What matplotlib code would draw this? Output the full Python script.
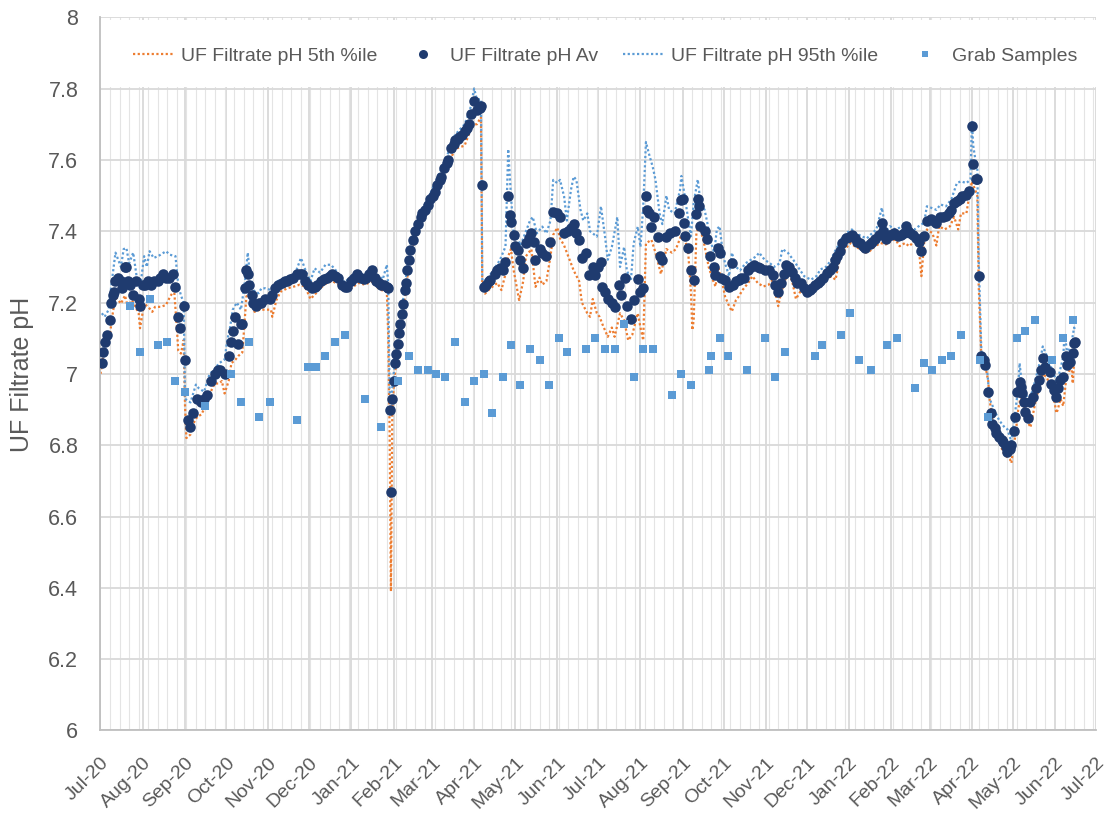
import numpy as np
import pandas as pd
import matplotlib
matplotlib.use("Agg")
import matplotlib.pyplot as plt
import matplotlib.dates as mdates
from matplotlib.lines import Line2D
from matplotlib.legend import Legend
from matplotlib.patches import Rectangle

plt.rcParams["font.family"] = ["Liberation Sans", "DejaVu Sans"]

# daily average pH
avg_dates = [
    "2020-07-02", "2020-07-03", "2020-07-04", "2020-07-06", "2020-07-08", "2020-07-09", "2020-07-10",
    "2020-07-11", "2020-07-12", "2020-07-14", "2020-07-16", "2020-07-17", "2020-07-19", "2020-07-20",
    "2020-07-21", "2020-07-23", "2020-07-25", "2020-07-27", "2020-07-29", "2020-07-30", "2020-08-01",
    "2020-08-03", "2020-08-05", "2020-08-07", "2020-08-09", "2020-08-12", "2020-08-14", "2020-08-16",
    "2020-08-18", "2020-08-20", "2020-08-23", "2020-08-25", "2020-08-27", "2020-08-28", "2020-08-31",
    "2020-09-01", "2020-09-03", "2020-09-05", "2020-09-07", "2020-09-10", "2020-09-13", "2020-09-15",
    "2020-09-17", "2020-09-20", "2020-09-23", "2020-09-25", "2020-09-27", "2020-09-30", "2020-10-03",
    "2020-10-05", "2020-10-06", "2020-10-08", "2020-10-10", "2020-10-12", "2020-10-13", "2020-10-15",
    "2020-10-16", "2020-10-17", "2020-10-18", "2020-10-20", "2020-10-21", "2020-10-23", "2020-10-25",
    "2020-10-27", "2020-10-30", "2020-11-02", "2020-11-04", "2020-11-06", "2020-11-08", "2020-11-11",
    "2020-11-13", "2020-11-15", "2020-11-17", "2020-11-19", "2020-11-22", "2020-11-24", "2020-11-26",
    "2020-11-28", "2020-11-30", "2020-12-03", "2020-12-05", "2020-12-07", "2020-12-10", "2020-12-12",
    "2020-12-14", "2020-12-16", "2020-12-18", "2020-12-20", "2020-12-22", "2020-12-25", "2020-12-27",
    "2020-12-29", "2021-01-01", "2021-01-03", "2021-01-05", "2021-01-08", "2021-01-10", "2021-01-12",
    "2021-01-14", "2021-01-16", "2021-01-18", "2021-01-19", "2021-01-21", "2021-01-23", "2021-01-25",
    "2021-01-27", "2021-01-28", "2021-01-29", "2021-01-30", "2021-01-31", "2021-02-01", "2021-02-02",
    "2021-02-03", "2021-02-04", "2021-02-05", "2021-02-06", "2021-02-07", "2021-02-08", "2021-02-09",
    "2021-02-10", "2021-02-11", "2021-02-12", "2021-02-13", "2021-02-15", "2021-02-17", "2021-02-19",
    "2021-02-21", "2021-02-22", "2021-02-24", "2021-02-26", "2021-02-28", "2021-03-02", "2021-03-03",
    "2021-03-05", "2021-03-07", "2021-03-08", "2021-03-10", "2021-03-12", "2021-03-13", "2021-03-15",
    "2021-03-17", "2021-03-18", "2021-03-20", "2021-03-21", "2021-03-23", "2021-03-25", "2021-03-27",
    "2021-03-28", "2021-03-30", "2021-04-01", "2021-04-03", "2021-04-05", "2021-04-06", "2021-04-07",
    "2021-04-08", "2021-04-10", "2021-04-12", "2021-04-13", "2021-04-16", "2021-04-18", "2021-04-20",
    "2021-04-22", "2021-04-24", "2021-04-26", "2021-04-27", "2021-04-28", "2021-04-30", "2021-05-01",
    "2021-05-03", "2021-05-05", "2021-05-07", "2021-05-09", "2021-05-11", "2021-05-13", "2021-05-15",
    "2021-05-16", "2021-05-19", "2021-05-21", "2021-05-24", "2021-05-27", "2021-05-29", "2021-06-01",
    "2021-06-03", "2021-06-06", "2021-06-09", "2021-06-11", "2021-06-13", "2021-06-15", "2021-06-17",
    "2021-06-19", "2021-06-22", "2021-06-24", "2021-06-27", "2021-06-29", "2021-07-01", "2021-07-03",
    "2021-07-04", "2021-07-06", "2021-07-08", "2021-07-11", "2021-07-13", "2021-07-16", "2021-07-18",
    "2021-07-21", "2021-07-22", "2021-07-25", "2021-07-27", "2021-07-30", "2021-08-01", "2021-08-03",
    "2021-08-05", "2021-08-06", "2021-08-07", "2021-08-09", "2021-08-11", "2021-08-14", "2021-08-15",
    "2021-08-17", "2021-08-20", "2021-08-23", "2021-08-26", "2021-08-29", "2021-08-31", "2021-09-01",
    "2021-09-02", "2021-09-03", "2021-09-05", "2021-09-07", "2021-09-09", "2021-09-11", "2021-09-12",
    "2021-09-13", "2021-09-14", "2021-09-17", "2021-09-19", "2021-09-21", "2021-09-24", "2021-09-25",
    "2021-09-27", "2021-09-28", "2021-09-29", "2021-10-02", "2021-10-05", "2021-10-07", "2021-10-08",
    "2021-10-10", "2021-10-12", "2021-10-14", "2021-10-16", "2021-10-19", "2021-10-21", "2021-10-23",
    "2021-10-26", "2021-10-28", "2021-10-31", "2021-11-03", "2021-11-06", "2021-11-08", "2021-11-10",
    "2021-11-12", "2021-11-14", "2021-11-16", "2021-11-18", "2021-11-20", "2021-11-22", "2021-11-24",
    "2021-11-27", "2021-11-29", "2021-12-01", "2021-12-03", "2021-12-05", "2021-12-07", "2021-12-09",
    "2021-12-11", "2021-12-13", "2021-12-16", "2021-12-18", "2021-12-20", "2021-12-22", "2021-12-23",
    "2021-12-25", "2021-12-27", "2021-12-30", "2022-01-01", "2022-01-03", "2022-01-05", "2022-01-07",
    "2022-01-09", "2022-01-11", "2022-01-13", "2022-01-16", "2022-01-18", "2022-01-20", "2022-01-23",
    "2022-01-25", "2022-01-26", "2022-01-28", "2022-01-30", "2022-02-01", "2022-02-03", "2022-02-06",
    "2022-02-08", "2022-02-10", "2022-02-12", "2022-02-13", "2022-02-15", "2022-02-17", "2022-02-19",
    "2022-02-21", "2022-02-23", "2022-02-25", "2022-02-27", "2022-03-02", "2022-03-04", "2022-03-06",
    "2022-03-09", "2022-03-11", "2022-03-13", "2022-03-15", "2022-03-17", "2022-03-19", "2022-03-21",
    "2022-03-23", "2022-03-25", "2022-03-28", "2022-03-30", "2022-04-01", "2022-04-02", "2022-04-04",
    "2022-04-05", "2022-04-06", "2022-04-08", "2022-04-10", "2022-04-11", "2022-04-13", "2022-04-15",
    "2022-04-16", "2022-04-18", "2022-04-19", "2022-04-21", "2022-04-23", "2022-04-24", "2022-04-26",
    "2022-04-27", "2022-04-29", "2022-04-30", "2022-05-02", "2022-05-03", "2022-05-04", "2022-05-06",
    "2022-05-07", "2022-05-08", "2022-05-09", "2022-05-10", "2022-05-12", "2022-05-14", "2022-05-16",
    "2022-05-18", "2022-05-20", "2022-05-22", "2022-05-23", "2022-05-25", "2022-05-28", "2022-05-29",
    "2022-05-31", "2022-06-02", "2022-06-03", "2022-06-05", "2022-06-07", "2022-06-09", "2022-06-10",
    "2022-06-12", "2022-06-14", "2022-06-15", "2022-06-16",
]
avg_ph = [
    7.03, 7.06, 7.09, 7.11, 7.15, 7.20, 7.22,
    7.23, 7.26, 7.27, 7.26, 7.24, 7.30, 7.30,
    7.26, 7.25, 7.22, 7.26, 7.21, 7.19, 7.25,
    7.25, 7.26, 7.25, 7.26, 7.26, 7.27, 7.28,
    7.27, 7.27, 7.28, 7.245, 7.16, 7.13, 7.19,
    7.04, 6.87, 6.85, 6.89, 6.93, 6.92, 6.93,
    6.94, 6.98, 7.00, 7.01, 7.01, 7.00, 7.05,
    7.09, 7.12, 7.16, 7.085, 7.14, 7.14, 7.24,
    7.29, 7.28, 7.25, 7.22, 7.20, 7.19, 7.20,
    7.20, 7.21, 7.21, 7.22, 7.24, 7.25, 7.255,
    7.26, 7.26, 7.265, 7.27, 7.28, 7.28, 7.28,
    7.26, 7.25, 7.24, 7.245, 7.25, 7.26, 7.265,
    7.27, 7.275, 7.28, 7.275, 7.27, 7.25, 7.245,
    7.245, 7.26, 7.27, 7.28, 7.27, 7.265, 7.27,
    7.28, 7.29, 7.27, 7.26, 7.255, 7.25, 7.25,
    7.245, 7.24, 6.90, 6.67, 6.93, 6.98, 7.03,
    7.056, 7.084, 7.114, 7.14, 7.168, 7.197, 7.235,
    7.254, 7.29, 7.32, 7.347, 7.375, 7.40, 7.42,
    7.44, 7.45, 7.46, 7.474, 7.49, 7.50, 7.51,
    7.53, 7.545, 7.553, 7.577, 7.59, 7.60, 7.633,
    7.645, 7.656, 7.66, 7.665, 7.67, 7.68, 7.69,
    7.70, 7.73, 7.764, 7.74, 7.745, 7.75, 7.53,
    7.245, 7.25, 7.26, 7.263, 7.28, 7.29, 7.296,
    7.29, 7.314, 7.50, 7.445, 7.427, 7.39, 7.36,
    7.347, 7.32, 7.296, 7.366, 7.38, 7.394, 7.37,
    7.32, 7.35, 7.34, 7.33, 7.37, 7.455, 7.45,
    7.44, 7.394, 7.40, 7.41, 7.42, 7.394, 7.375,
    7.324, 7.338, 7.277, 7.30, 7.277, 7.30, 7.314,
    7.245, 7.23, 7.21, 7.20, 7.188, 7.25, 7.22,
    7.27, 7.19, 7.155, 7.207, 7.267, 7.23, 7.24,
    7.50, 7.46, 7.45, 7.413, 7.44, 7.385, 7.33,
    7.32, 7.385, 7.394, 7.40, 7.45, 7.488, 7.49,
    7.424, 7.386, 7.353, 7.29, 7.264, 7.447, 7.49,
    7.47, 7.414, 7.40, 7.377, 7.33, 7.30, 7.278,
    7.353, 7.34, 7.27, 7.264, 7.245, 7.31, 7.25,
    7.26, 7.264, 7.27, 7.27, 7.29, 7.30, 7.306,
    7.30, 7.297, 7.29, 7.29, 7.278, 7.25, 7.23,
    7.255, 7.28, 7.306, 7.30, 7.285, 7.27, 7.255,
    7.255, 7.24, 7.23, 7.235, 7.24, 7.25, 7.255,
    7.26, 7.27, 7.283, 7.29, 7.30, 7.32, 7.33,
    7.344, 7.367, 7.38, 7.385, 7.39, 7.38, 7.37,
    7.367, 7.36, 7.353, 7.363, 7.37, 7.377, 7.39,
    7.424, 7.40, 7.377, 7.39, 7.39, 7.395, 7.386,
    7.39, 7.395, 7.414, 7.40, 7.395, 7.39, 7.38,
    7.37, 7.344, 7.386, 7.428, 7.433, 7.43, 7.424,
    7.44, 7.44, 7.442, 7.45, 7.46, 7.48, 7.485,
    7.49, 7.50, 7.503, 7.513, 7.696, 7.588, 7.546,
    7.546, 7.274, 7.05, 7.04, 7.025, 6.95, 6.89,
    6.86, 6.847, 6.833, 6.823, 6.814, 6.81, 6.795,
    6.78, 6.79, 6.80, 6.84, 6.88, 6.95, 6.978,
    6.964, 6.945, 6.92, 6.894, 6.875, 6.92, 6.935,
    6.96, 6.983, 7.01, 7.044, 7.02, 7.006, 6.973,
    6.955, 6.935, 6.96, 6.983, 6.99, 7.05, 7.025,
    7.034, 7.058, 7.086, 7.09,
]

# 95th percentile
p95_dates = [
    "2020-07-02", "2020-07-04", "2020-07-07", "2020-07-09", "2020-07-12", "2020-07-14", "2020-07-16",
    "2020-07-18", "2020-07-20", "2020-07-22", "2020-07-25", "2020-07-28", "2020-07-30", "2020-08-02",
    "2020-08-04", "2020-08-06", "2020-08-09", "2020-08-12", "2020-08-14", "2020-08-18", "2020-08-21",
    "2020-08-25", "2020-08-27", "2020-08-29", "2020-08-31", "2020-09-01", "2020-09-05", "2020-09-09",
    "2020-09-11", "2020-09-15", "2020-09-19", "2020-09-22", "2020-09-26", "2020-09-30", "2020-10-02",
    "2020-10-04", "2020-10-06", "2020-10-09", "2020-10-12", "2020-10-15", "2020-10-17", "2020-10-18",
    "2020-10-21", "2020-10-25", "2020-10-27", "2020-10-30", "2020-11-03", "2020-11-08", "2020-11-13",
    "2020-11-18", "2020-11-21", "2020-11-25", "2020-11-29", "2020-12-02", "2020-12-05", "2020-12-09",
    "2020-12-13", "2020-12-17", "2020-12-22", "2020-12-27", "2021-01-01", "2021-01-06", "2021-01-11",
    "2021-01-16", "2021-01-21", "2021-01-24", "2021-01-27", "2021-01-28", "2021-01-29", "2021-01-30",
    "2021-01-31", "2021-02-01", "2021-02-03", "2021-02-08", "2021-02-13", "2021-02-19", "2021-02-26",
    "2021-03-05", "2021-03-12", "2021-03-18", "2021-03-25", "2021-03-29", "2021-04-01", "2021-04-03",
    "2021-04-06", "2021-04-07", "2021-04-10", "2021-04-15", "2021-04-20", "2021-04-24", "2021-04-26",
    "2021-04-28", "2021-04-30", "2021-05-03", "2021-05-05", "2021-05-08", "2021-05-12", "2021-05-14",
    "2021-05-17", "2021-05-21", "2021-05-24", "2021-05-27", "2021-05-29", "2021-06-01", "2021-06-03",
    "2021-06-06", "2021-06-08", "2021-06-11", "2021-06-13", "2021-06-15", "2021-06-18", "2021-06-20",
    "2021-06-23", "2021-06-25", "2021-06-27", "2021-06-30", "2021-07-03", "2021-07-06", "2021-07-08",
    "2021-07-11", "2021-07-15", "2021-07-17", "2021-07-20", "2021-07-22", "2021-07-25", "2021-07-27",
    "2021-07-30", "2021-08-01", "2021-08-03", "2021-08-05", "2021-08-07", "2021-08-10", "2021-08-12",
    "2021-08-15", "2021-08-17", "2021-08-20", "2021-08-22", "2021-08-26", "2021-08-30", "2021-08-31",
    "2021-09-02", "2021-09-05", "2021-09-07", "2021-09-09", "2021-09-12", "2021-09-14", "2021-09-17",
    "2021-09-19", "2021-09-21", "2021-09-24", "2021-09-26", "2021-09-28", "2021-09-30", "2021-10-02",
    "2021-10-05", "2021-10-07", "2021-10-10", "2021-10-13", "2021-10-17", "2021-10-21", "2021-10-25",
    "2021-10-27", "2021-10-31", "2021-11-04", "2021-11-07", "2021-11-11", "2021-11-13", "2021-11-17",
    "2021-11-21", "2021-11-25", "2021-11-29", "2021-12-04", "2021-12-08", "2021-12-11", "2021-12-15",
    "2021-12-19", "2021-12-21", "2021-12-24", "2021-12-26", "2021-12-30", "2022-01-03", "2022-01-06",
    "2022-01-10", "2022-01-14", "2022-01-18", "2022-01-21", "2022-01-25", "2022-01-28", "2022-01-31",
    "2022-02-04", "2022-02-07", "2022-02-11", "2022-02-14", "2022-02-18", "2022-02-21", "2022-02-25",
    "2022-02-27", "2022-03-02", "2022-03-06", "2022-03-09", "2022-03-13", "2022-03-17", "2022-03-21",
    "2022-03-24", "2022-03-28", "2022-03-31", "2022-04-01", "2022-04-02", "2022-04-04", "2022-04-05",
    "2022-04-06", "2022-04-08", "2022-04-12", "2022-04-14", "2022-04-18", "2022-04-21", "2022-04-25",
    "2022-04-27", "2022-04-30", "2022-05-02", "2022-05-05", "2022-05-06", "2022-05-08", "2022-05-11",
    "2022-05-13", "2022-05-16", "2022-05-18", "2022-05-21", "2022-05-23", "2022-05-25", "2022-05-28",
    "2022-05-31", "2022-06-02", "2022-06-04", "2022-06-07", "2022-06-08", "2022-06-10", "2022-06-13",
    "2022-06-15", "2022-06-16",
]
p95_ph = [
    7.17, 7.16, 7.18, 7.25, 7.34, 7.32, 7.30,
    7.35, 7.353, 7.31, 7.34, 7.26, 7.24, 7.33,
    7.30, 7.344, 7.325, 7.33, 7.334, 7.344, 7.334,
    7.33, 7.25, 7.22, 7.20, 6.93, 6.92, 6.97,
    6.96, 6.95, 7.00, 7.01, 7.03, 7.04, 7.095,
    7.13, 7.18, 7.20, 7.18, 7.26, 7.34, 7.30,
    7.235, 7.226, 7.24, 7.24, 7.235, 7.26, 7.27,
    7.275, 7.284, 7.325, 7.284, 7.26, 7.296, 7.284,
    7.306, 7.306, 7.284, 7.256, 7.275, 7.284, 7.275,
    7.29, 7.275, 7.265, 7.306, 7.25, 6.95, 6.93,
    6.96, 7.00, 7.07, 7.21, 7.36, 7.44, 7.49,
    7.55, 7.61, 7.67, 7.70, 7.74, 7.80, 7.77,
    7.77, 7.26, 7.263, 7.29, 7.32, 7.357, 7.63,
    7.50, 7.39, 7.38, 7.36, 7.39, 7.43, 7.44,
    7.394, 7.413, 7.394, 7.43, 7.544, 7.535, 7.544,
    7.497, 7.43, 7.516, 7.553, 7.544, 7.46, 7.43,
    7.45, 7.40, 7.394, 7.385, 7.47, 7.385, 7.32,
    7.356, 7.44, 7.30, 7.356, 7.29, 7.263, 7.366,
    7.413, 7.356, 7.47, 7.65, 7.62, 7.58, 7.544,
    7.45, 7.42, 7.50, 7.46, 7.45, 7.516, 7.555,
    7.51, 7.433, 7.386, 7.48, 7.545, 7.48, 7.46,
    7.424, 7.377, 7.34, 7.405, 7.414, 7.35, 7.31,
    7.274, 7.34, 7.30, 7.29, 7.31, 7.32, 7.33,
    7.34, 7.32, 7.31, 7.30, 7.31, 7.35, 7.34,
    7.32, 7.297, 7.274, 7.264, 7.274, 7.293, 7.30,
    7.32, 7.34, 7.36, 7.377, 7.395, 7.405, 7.395,
    7.386, 7.38, 7.395, 7.405, 7.466, 7.40, 7.414,
    7.405, 7.41, 7.42, 7.41, 7.405, 7.414, 7.424,
    7.47, 7.466, 7.46, 7.475, 7.47, 7.49, 7.535,
    7.54, 7.535, 7.545, 7.71, 7.64, 7.59, 7.58,
    7.32, 7.06, 7.02, 6.93, 6.894, 6.87, 6.85,
    6.845, 6.81, 6.87, 6.96, 7.03, 6.96, 6.94,
    6.925, 6.96, 6.99, 7.035, 7.077, 7.06, 7.03,
    7.00, 6.98, 7.00, 7.047, 7.114, 7.056, 7.085,
    7.13, 7.12,
]

# 5th percentile
p5_dates = [
    "2020-07-01", "2020-07-03", "2020-07-05", "2020-07-08", "2020-07-10", "2020-07-12", "2020-07-14",
    "2020-07-16", "2020-07-19", "2020-07-21", "2020-07-24", "2020-07-26", "2020-07-29", "2020-07-30",
    "2020-08-02", "2020-08-05", "2020-08-08", "2020-08-10", "2020-08-14", "2020-08-18", "2020-08-21",
    "2020-08-24", "2020-08-26", "2020-08-27", "2020-08-29", "2020-08-31", "2020-09-01", "2020-09-02",
    "2020-09-05", "2020-09-07", "2020-09-10", "2020-09-13", "2020-09-16", "2020-09-18", "2020-09-21",
    "2020-09-23", "2020-09-26", "2020-09-28", "2020-09-30", "2020-10-03", "2020-10-05", "2020-10-08",
    "2020-10-10", "2020-10-13", "2020-10-14", "2020-10-16", "2020-10-18", "2020-10-20", "2020-10-22",
    "2020-10-26", "2020-10-30", "2020-11-03", "2020-11-04", "2020-11-07", "2020-11-10", "2020-11-15",
    "2020-11-20", "2020-11-24", "2020-11-28", "2020-12-02", "2020-12-06", "2020-12-09", "2020-12-14",
    "2020-12-18", "2020-12-23", "2020-12-27", "2021-01-01", "2021-01-06", "2021-01-11", "2021-01-16",
    "2021-01-19", "2021-01-23", "2021-01-27", "2021-01-28", "2021-01-29", "2021-01-30", "2021-01-31",
    "2021-02-01", "2021-02-03", "2021-02-08", "2021-02-13", "2021-02-19", "2021-02-26", "2021-03-05",
    "2021-03-12", "2021-03-18", "2021-03-21", "2021-03-25", "2021-03-29", "2021-04-01", "2021-04-03",
    "2021-04-06", "2021-04-07", "2021-04-09", "2021-04-13", "2021-04-18", "2021-04-21", "2021-04-24",
    "2021-04-26", "2021-04-28", "2021-04-30", "2021-05-04", "2021-05-07", "2021-05-09", "2021-05-13",
    "2021-05-16", "2021-05-19", "2021-05-21", "2021-05-24", "2021-05-27", "2021-05-29", "2021-06-01",
    "2021-06-03", "2021-06-06", "2021-06-09", "2021-06-13", "2021-06-17", "2021-06-19", "2021-06-23",
    "2021-06-25", "2021-06-27", "2021-06-30", "2021-07-02", "2021-07-04", "2021-07-08", "2021-07-11",
    "2021-07-13", "2021-07-17", "2021-07-20", "2021-07-23", "2021-07-26", "2021-07-30", "2021-08-01",
    "2021-08-03", "2021-08-05", "2021-08-09", "2021-08-12", "2021-08-16", "2021-08-20", "2021-08-24",
    "2021-08-27", "2021-08-31", "2021-09-02", "2021-09-05", "2021-09-07", "2021-09-08", "2021-09-09",
    "2021-09-11", "2021-09-13", "2021-09-16", "2021-09-18", "2021-09-20", "2021-09-23", "2021-09-25",
    "2021-09-27", "2021-09-30", "2021-10-02", "2021-10-05", "2021-10-07", "2021-10-10", "2021-10-12",
    "2021-10-15", "2021-10-19", "2021-10-22", "2021-10-26", "2021-10-30", "2021-11-03", "2021-11-06",
    "2021-11-10", "2021-11-12", "2021-11-16", "2021-11-20", "2021-11-23", "2021-11-27", "2021-12-01",
    "2021-12-04", "2021-12-08", "2021-12-11", "2021-12-15", "2021-12-19", "2021-12-22", "2021-12-25",
    "2021-12-29", "2022-01-02", "2022-01-05", "2022-01-09", "2022-01-13", "2022-01-16", "2022-01-20",
    "2022-01-24", "2022-01-28", "2022-01-31", "2022-02-04", "2022-02-07", "2022-02-11", "2022-02-14",
    "2022-02-18", "2022-02-21", "2022-02-23", "2022-02-25", "2022-02-27", "2022-03-03", "2022-03-06",
    "2022-03-08", "2022-03-12", "2022-03-16", "2022-03-19", "2022-03-22", "2022-03-24", "2022-03-28",
    "2022-03-30", "2022-04-01", "2022-04-02", "2022-04-04", "2022-04-05", "2022-04-06", "2022-04-08",
    "2022-04-11", "2022-04-13", "2022-04-14", "2022-04-17", "2022-04-19", "2022-04-21", "2022-04-24",
    "2022-04-26", "2022-04-29", "2022-04-30", "2022-05-01", "2022-05-03", "2022-05-05", "2022-05-07",
    "2022-05-10", "2022-05-12", "2022-05-14", "2022-05-16", "2022-05-18", "2022-05-21", "2022-05-23",
    "2022-05-26", "2022-05-28", "2022-05-31", "2022-06-02", "2022-06-03", "2022-06-05", "2022-06-07",
    "2022-06-09", "2022-06-10", "2022-06-13", "2022-06-14", "2022-06-15",
]
p5_ph = [
    7.00, 7.05, 7.076, 7.113, 7.17, 7.216, 7.207,
    7.197, 7.22, 7.188, 7.207, 7.192, 7.17, 7.128,
    7.197, 7.188, 7.174, 7.188, 7.188, 7.193, 7.216,
    7.235, 7.13, 7.066, 7.057, 7.095, 6.91, 6.82,
    6.83, 6.86, 6.88, 6.886, 6.91, 6.93, 6.96,
    6.973, 6.973, 6.98, 6.945, 6.98, 7.03, 7.04,
    7.05, 7.06, 7.11, 7.217, 7.226, 7.197, 7.174,
    7.18, 7.18, 7.18, 7.16, 7.207, 7.23, 7.24,
    7.245, 7.25, 7.245, 7.21, 7.226, 7.24, 7.255,
    7.26, 7.25, 7.24, 7.24, 7.255, 7.25, 7.26,
    7.245, 7.235, 7.23, 7.11, 6.85, 6.39, 6.90,
    6.96, 7.04, 7.18, 7.33, 7.41, 7.46, 7.52,
    7.58, 7.63, 7.635, 7.64, 7.68, 7.70, 7.70,
    7.72, 7.24, 7.225, 7.24, 7.255, 7.235, 7.28,
    7.33, 7.35, 7.29, 7.207, 7.26, 7.33, 7.35,
    7.244, 7.27, 7.25, 7.26, 7.33, 7.39, 7.41,
    7.38, 7.36, 7.33, 7.29, 7.26, 7.20, 7.17,
    7.16, 7.21, 7.17, 7.16, 7.14, 7.104, 7.13,
    7.104, 7.17, 7.15, 7.094, 7.11, 7.17, 7.13,
    7.094, 7.366, 7.376, 7.34, 7.28, 7.35, 7.34,
    7.35, 7.39, 7.386, 7.34, 7.23, 7.123, 7.15,
    7.395, 7.414, 7.377, 7.34, 7.30, 7.264, 7.245,
    7.30, 7.255, 7.217, 7.19, 7.175, 7.207, 7.217,
    7.236, 7.255, 7.274, 7.255, 7.245, 7.25, 7.264,
    7.19, 7.226, 7.274, 7.264, 7.21, 7.236, 7.22,
    7.226, 7.236, 7.255, 7.264, 7.274, 7.264, 7.32,
    7.35, 7.367, 7.358, 7.35, 7.34, 7.344, 7.358,
    7.367, 7.363, 7.372, 7.377, 7.358, 7.367, 7.358,
    7.372, 7.358, 7.274, 7.367, 7.405, 7.395, 7.36,
    7.414, 7.405, 7.414, 7.44, 7.405, 7.45, 7.45,
    7.497, 7.54, 7.53, 7.51, 7.50, 7.25, 7.04,
    7.02, 6.98, 6.93, 6.84, 6.83, 6.81, 6.78,
    6.77, 6.76, 6.75, 6.78, 6.83, 6.90, 6.94,
    6.90, 6.865, 6.85, 6.89, 6.93, 6.97, 7.00,
    6.99, 6.97, 6.935, 6.89, 6.90, 6.93, 6.91,
    6.98, 7.00, 7.02, 6.973, 7.04,
]

# grab samples
grab_dates = [
    "2020-07-23", "2020-07-30", "2020-08-06", "2020-08-12", "2020-08-19", "2020-08-25", "2020-09-01",
    "2020-09-16", "2020-10-05", "2020-10-12", "2020-10-18", "2020-10-25", "2020-11-02", "2020-11-22",
    "2020-11-30", "2020-12-06", "2020-12-13", "2020-12-20", "2020-12-27", "2021-01-11", "2021-01-23",
    "2021-02-04", "2021-02-12", "2021-02-19", "2021-02-26", "2021-03-04", "2021-03-11", "2021-03-18",
    "2021-03-25", "2021-04-01", "2021-04-08", "2021-04-14", "2021-04-22", "2021-04-28", "2021-05-05",
    "2021-05-12", "2021-05-19", "2021-05-26", "2021-06-02", "2021-06-08", "2021-06-22", "2021-06-29",
    "2021-07-06", "2021-07-13", "2021-07-20", "2021-07-27", "2021-08-03", "2021-08-10", "2021-08-24",
    "2021-08-31", "2021-09-07", "2021-09-20", "2021-09-22", "2021-09-28", "2021-10-04", "2021-10-18",
    "2021-10-31", "2021-11-08", "2021-11-15", "2021-12-07", "2021-12-12", "2021-12-26", "2022-01-02",
    "2022-01-08", "2022-01-17", "2022-01-29", "2022-02-05", "2022-02-18", "2022-02-25", "2022-03-03",
    "2022-03-10", "2022-03-17", "2022-03-24", "2022-04-07", "2022-04-13", "2022-05-04", "2022-05-10",
    "2022-05-17", "2022-05-30", "2022-06-07", "2022-06-14",
]
grab_ph = [
    7.19, 7.06, 7.21, 7.08, 7.09, 6.98, 6.95,
    6.91, 7.00, 6.92, 7.09, 6.88, 6.92, 6.87,
    7.02, 7.02, 7.05, 7.09, 7.11, 6.93, 6.85,
    6.98, 7.05, 7.01, 7.01, 7.00, 6.99, 7.09,
    6.92, 6.98, 7.00, 6.89, 6.99, 7.08, 6.97,
    7.07, 7.04, 6.97, 7.10, 7.06, 7.07, 7.10,
    7.07, 7.07, 7.14, 6.99, 7.07, 7.07, 6.94,
    7.00, 6.97, 7.01, 7.05, 7.10, 7.05, 7.01,
    7.10, 6.99, 7.06, 7.05, 7.08, 7.11, 7.17,
    7.04, 7.01, 7.08, 7.10, 6.96, 7.03, 7.01,
    7.04, 7.05, 7.11, 7.04, 6.88, 7.10, 7.12,
    7.15, 7.04, 7.10, 7.15,
]

labels = ["UF Filtrate pH 5th %ile", "UF Filtrate pH Av",
          "UF Filtrate pH 95th %ile", "Grab Samples"]

C_P5 = "#ed7d31"
C_AVG = "#1f3b6f"
C_P95 = "#5b9bd5"
C_GRAB = "#5b9bd5"
C_TEXT = "#595959"
C_GRID = "#d9d9d9"
DOTS = (0, (1, 1.1))


def main():
    fig = plt.figure(figsize=(11.14, 8.15), dpi=100)
    ax = fig.add_axes([0.0902, 0.1037, 0.8936, 0.8751])

    x_avg = pd.to_datetime(avg_dates)
    x_p5 = pd.to_datetime(p5_dates)
    x_p95 = pd.to_datetime(p95_dates)
    x_grab = pd.to_datetime(grab_dates)

    ax.plot(x_p5, p5_ph, color=C_P5, lw=1.6, ls=DOTS, zorder=2)
    ax.plot(x_p95, p95_ph, color=C_P95, lw=1.6, ls=DOTS, zorder=3)
    ax.plot(x_avg, avg_ph, ls="none", marker="o", ms=7.6, mew=0, color=C_AVG, zorder=4)
    ax.plot(x_grab, grab_ph, ls="none", marker="s", ms=6, mew=0, color=C_GRAB, zorder=5)

    ax.set_xlim(pd.Timestamp("2020-07-01"), pd.Timestamp("2022-07-01"))
    ax.set_ylim(6, 8)
    ax.set_yticks(np.arange(6, 8.01, 0.2))
    ax.yaxis.set_major_formatter(plt.FuncFormatter(lambda v, p: f"{v:.1f}".rstrip("0").rstrip(".")))

    ax.xaxis.set_major_locator(mdates.MonthLocator())
    ax.xaxis.set_major_formatter(mdates.DateFormatter("%b-%y"))
    weeks = pd.date_range("2020-07-01", "2022-07-01", freq="7D")
    ax.xaxis.set_minor_locator(plt.FixedLocator(mdates.date2num(weeks)))

    ax.set_axisbelow(True)
    ax.grid(which="major", axis="both", color=C_GRID, lw=1.3)
    ax.grid(which="minor", axis="x", color="#e4e4e4", lw=0.8)

    for side in ["top", "right"]:
        ax.spines[side].set_visible(False)
    for side in ["left", "bottom"]:
        ax.spines[side].set_color("#bfbfbf")
        ax.spines[side].set_linewidth(1.3)

    ax.tick_params(axis="both", which="both", length=0)
    ax.tick_params(axis="y", labelsize=15.5, labelcolor=C_TEXT, pad=16)
    ax.tick_params(axis="x", labelsize=14, labelcolor=C_TEXT, pad=17)
    for lbl in ax.get_xticklabels():
        lbl.set_rotation(45)
        lbl.set_ha("right")
        lbl.set_va("top")
        lbl.set_rotation_mode("anchor")

    ax.set_ylabel("UF Filtrate pH", fontsize=18, color=C_TEXT, labelpad=10)

    # white band for the legend above 7.8
    ax.add_patch(Rectangle((0, 0.902), 1, 0.094, transform=ax.transAxes,
                           facecolor="white", edgecolor="none", zorder=1))

    handles = [
        Line2D([], [], color=C_P5, lw=1.6, ls=DOTS),
        Line2D([], [], ls="none", marker="o", ms=6.5, mew=0, color=C_AVG),
        Line2D([], [], color=C_P95, lw=1.6, ls=DOTS),
        Line2D([], [], ls="none", marker="s", ms=5, mew=0, color=C_GRAB),
    ]
    starts = [0.0326, 0.3035, 0.5248, 0.8077]
    for h, lab, x0 in zip(handles, labels, starts):
        leg = Legend(ax, [h], [lab], loc="center left", bbox_to_anchor=(x0, 0.946),
                     frameon=False, fontsize=14, handlelength=2.1,
                     handletextpad=0.35, borderpad=0, borderaxespad=0,
                     labelcolor=C_TEXT)
        ax.add_artist(leg)

    fig.savefig("out.png", dpi=100)
    plt.close(fig)


if __name__ == "__main__":
    main()
